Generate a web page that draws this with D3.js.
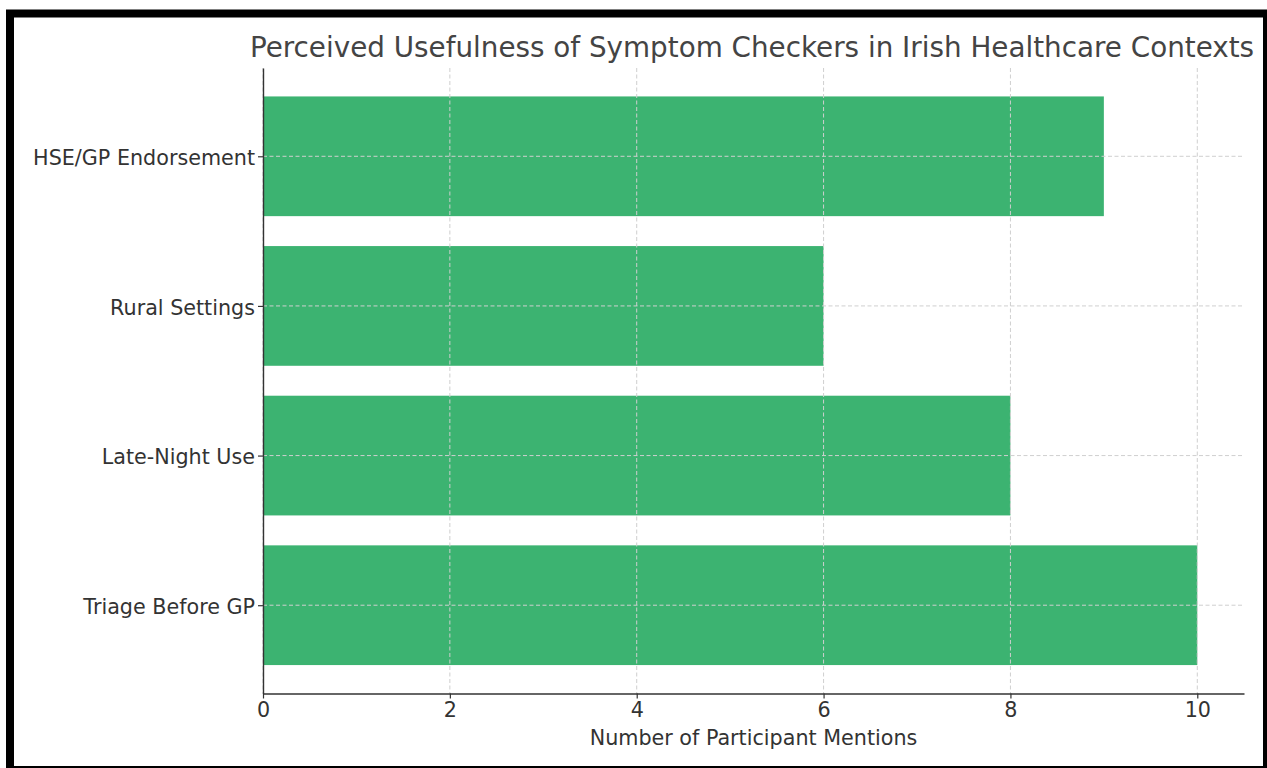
<!DOCTYPE html>
<html>
<head>
<meta charset="utf-8">
<script src="https://cdn.jsdelivr.net/npm/d3@7"></script>
<style>
  html, body { margin: 0; padding: 0; background: #fff; }
  svg { display: block; }
  text { font-family: "DejaVu Sans", sans-serif; }
</style>
</head>
<body>
<svg id="chart" width="1267" height="768"></svg>
<script>
// Mention counts per usage context (bottom to top as drawn)
const categories = ["Triage Before GP", "Late-Night Use", "Rural Settings", "HSE/GP Endorsement"];
const mentions = [10, 8, 6, 9];
const xTicks = [0, 2, 4, 6, 8, 10];
const titleText = "Perceived Usefulness of Symptom Checkers in Irish Healthcare Contexts";
const xLabelText = "Number of Participant Mentions";

(function () {
  const svg = d3.select("#chart");
  const W = 1267, H = 768;

  svg.append("rect").attr("width", W).attr("height", H).attr("fill", "#fff");

  // Plot area
  const plotL = 263, plotR = 1244, plotT = 68, plotB = 693.5;

  const x = d3.scaleLinear().domain([0, 10.5]).range([plotL, plotR]);
  // Category index scale with margins around bars of height 0.8
  const y = d3.scaleLinear().domain([-0.59, categories.length - 1 + 0.59]).range([plotB, plotT]);
  const barH = 0.8;

  const textColor = "#333";
  const gridColor = "#cfcfcf";
  const tickFont = 20.7;

  // Bars
  svg.append("g").selectAll("rect")
    .data(categories.map((c, i) => ({ c, v: mentions[i], i })))
    .join("rect")
    .attr("x", x(0))
    .attr("y", d => y(d.i + barH / 2))
    .attr("width", d => x(d.v) - x(0))
    .attr("height", d => y(d.i - barH / 2) - y(d.i + barH / 2))
    .attr("fill", "#3cb371");

  // Grid (drawn over bars)
  const grid = svg.append("g");
  grid.selectAll("line.vx")
    .data(xTicks)
    .join("line")
    .attr("class", "vx")
    .attr("x1", d => x(d)).attr("x2", d => x(d))
    .attr("y1", plotT).attr("y2", plotB)
    .attr("stroke", gridColor).attr("stroke-width", 1)
    .attr("stroke-dasharray", "4,2.5");
  grid.selectAll("line.hy")
    .data(categories.map((c, i) => i))
    .join("line")
    .attr("class", "hy")
    .attr("x1", plotL).attr("x2", plotR)
    .attr("y1", d => y(d)).attr("y2", d => y(d))
    .attr("stroke", gridColor).attr("stroke-width", 1)
    .attr("stroke-dasharray", "4,2.5");

  // X axis
  const xAxis = svg.append("g")
    .attr("transform", `translate(0,${plotB})`)
    .call(d3.axisBottom(x).tickValues(xTicks).tickFormat(d3.format("d")).tickSize(5).tickPadding(4).tickSizeOuter(0));
  xAxis.select(".domain").attr("stroke", textColor).attr("stroke-width", 1.4);
  xAxis.selectAll(".tick line").attr("stroke", textColor).attr("stroke-width", 1.2);
  xAxis.selectAll(".tick text").attr("fill", textColor).attr("font-size", tickFont)
    .attr("font-family", "DejaVu Sans");

  // Y axis
  const yAxis = svg.append("g")
    .attr("transform", `translate(${plotL},0)`)
    .call(d3.axisLeft(y).tickValues(categories.map((c, i) => i)).tickFormat(i => categories[i]).tickSize(5).tickPadding(3).tickSizeOuter(0));
  yAxis.select(".domain").attr("stroke", textColor).attr("stroke-width", 1.4);
  yAxis.selectAll(".tick line").attr("stroke", textColor).attr("stroke-width", 1.2);
  yAxis.selectAll(".tick text").attr("fill", textColor).attr("font-size", tickFont)
    .attr("font-family", "DejaVu Sans").attr("dy", "0.4em");

  // Title
  svg.append("text")
    .attr("x", 752)
    .attr("y", 57)
    .attr("text-anchor", "middle")
    .attr("fill", "#444")
    .attr("font-size", 27.8)
    .text(titleText);

  // X axis label
  svg.append("text")
    .attr("x", (plotL + plotR) / 2)
    .attr("y", 744.5)
    .attr("text-anchor", "middle")
    .attr("fill", textColor)
    .attr("font-size", tickFont)
    .text(xLabelText);

  // Black frame around the figure
  svg.append("rect")
    .attr("x", 10).attr("y", 13.5)
    .attr("width", 1257).attr("height", 756.5)
    .attr("fill", "none")
    .attr("stroke", "#000")
    .attr("stroke-width", 8);
})();
</script>
</body>
</html>
